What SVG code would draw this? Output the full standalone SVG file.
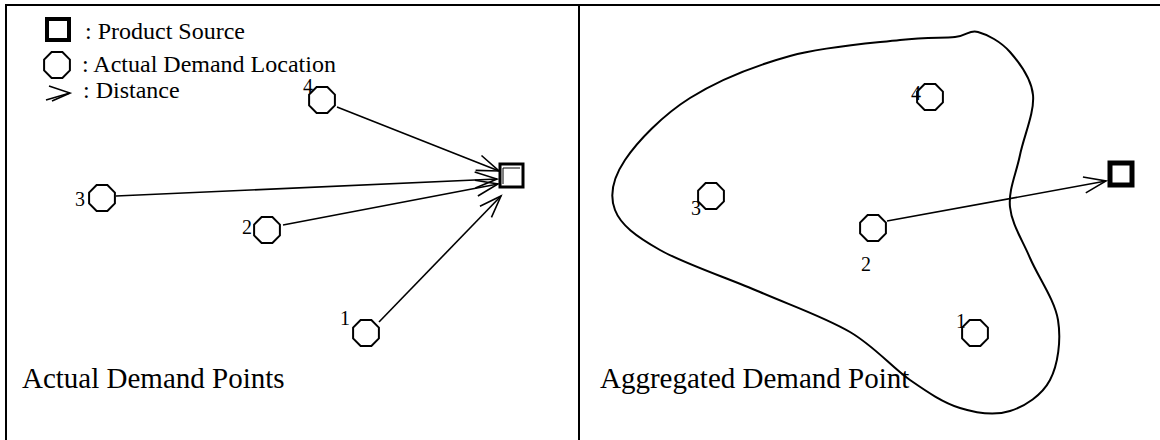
<svg xmlns="http://www.w3.org/2000/svg" xmlns:xlink="http://www.w3.org/1999/xlink" width="1160" height="440" viewBox="0 0 1160 440">
  <style>
    .frame { stroke: #000; stroke-width: 2; fill: none; }
    .oct { fill: #fff; stroke: #000; stroke-width: 2; }
    .src { fill: #fff; stroke: #000; }
    .conn { stroke: #000; stroke-width: 1.6; fill: none; }
    .lbl { font-family: "Liberation Serif", "Times New Roman", serif; fill: #000; }
    .num { font-size: 20px; }
    .leg { font-size: 24px; }
    .title { font-size: 29px; }
    .blob { fill: none; stroke: #000; stroke-width: 2; }
  </style>
  <defs>
    <polygon id="oct" points="12.9,-5.4 5.4,-12.9 -5.4,-12.9 -12.9,-5.4 -12.9,5.4 -5.4,12.9 5.4,12.9 12.9,5.4"/>
    <marker id="arr" markerUnits="userSpaceOnUse" markerWidth="26" markerHeight="20" refX="23" refY="9" orient="auto" overflow="visible">
      <path d="M1,1 L23,9 L1,17" fill="none" stroke="#000" stroke-width="1.6"/>
    </marker>
  </defs>
  <rect width="1160" height="440" fill="#fff"/>

  <!-- frame -->
  <g id="frame">
    <line class="frame" x1="5" y1="5" x2="1160" y2="5"/>
    <line class="frame" x1="6" y1="4" x2="6" y2="440"/>
    <line class="frame" x1="579" y1="4" x2="579" y2="440"/>
  </g>

  <!-- legend -->
  <g id="legend">
    <rect class="src" x="47" y="19" width="22" height="21" stroke-width="4"/>
    <text class="lbl leg" x="85" y="39">: Product Source</text>
    <use href="#oct" class="oct" x="57" y="65"/>
    <text class="lbl leg" x="82" y="72">: Actual Demand Location</text>
    <g class="conn">
      <line x1="46" y1="100" x2="70" y2="93"/>
      <polyline points="49,86 70,93 52,101"/>
    </g>
    <text class="lbl leg" x="83" y="98">: Distance</text>
  </g>

  <!-- connectors -->
  <g id="connectors">
    <line class="conn" x1="337" y1="107" x2="499" y2="171" marker-end="url(#arr)"/>
    <line class="conn" x1="116" y1="196" x2="497" y2="179" marker-end="url(#arr)"/>
    <line class="conn" x1="283" y1="225" x2="498" y2="184" marker-end="url(#arr)"/>
    <line class="conn" x1="379" y1="322" x2="501" y2="196" marker-end="url(#arr)"/>
    <line class="conn" x1="887" y1="221" x2="1106" y2="181" marker-end="url(#arr)"/>
  </g>

  <!-- left panel nodes -->
  <g id="L-source">
    <rect class="src" x="500" y="164" width="23" height="23" stroke-width="3"/>
    <path d="M503,168 L520,168 M503,168 L503,184" stroke="#000" stroke-width="1"/>
  </g>
  <g id="L-node4"><use href="#oct" class="oct" x="322" y="100"/><text class="lbl num" x="303" y="93">4</text></g>
  <g id="L-node3"><use href="#oct" class="oct" x="102" y="198"/><text class="lbl num" x="75" y="206">3</text></g>
  <g id="L-node2"><use href="#oct" class="oct" x="267" y="230"/><text class="lbl num" x="242" y="234">2</text></g>
  <g id="L-node1"><use href="#oct" class="oct" x="366" y="333"/><text class="lbl num" x="340" y="325">1</text></g>
  <text class="lbl title" x="22" y="388">Actual Demand Points</text>

  <!-- right panel -->
  <g id="region">
    <path class="blob" d="M955,37 C968,35.7 968.8,29.5 978,32 C987.2,34.5 1000.8,41.5 1010,52 C1019.2,62.5 1031.3,77.8 1033,95 C1034.7,112.2 1023.8,136.3 1020,155 C1016.2,173.7 1008.3,189.8 1010,207 C1011.7,224.2 1022,239.2 1030,258 C1038,276.8 1054.7,299.7 1058,320 C1061.3,340.3 1058,364.8 1050,380 C1042,395.2 1025,406.3 1010,411 C995,415.7 976.7,413.2 960,408 C943.3,402.8 928.3,392.7 910,380 C891.7,367.3 875,346.7 850,332 C825,317.3 791.7,305.7 760,292 C728.3,278.3 684.2,263.7 660,250 C635.8,236.3 620.8,225 615,210 C609.2,195 612.5,178.7 625,160 C637.5,141.3 662.5,115.3 690,98 C717.5,80.7 755,65.7 790,56 C825,46.3 872.5,43.2 900,40 C927.5,36.8 942,38.3 955,37 Z"/>
  </g>
  <g id="R-source">
    <rect class="src" x="1110" y="163" width="22" height="22" stroke-width="5"/>
  </g>
  <g id="R-node4"><use href="#oct" class="oct" x="930" y="97"/><text class="lbl num" x="911" y="100">4</text></g>
  <g id="R-node3"><use href="#oct" class="oct" x="711" y="196"/><text class="lbl num" x="691" y="215">3</text></g>
  <g id="R-node2"><use href="#oct" class="oct" x="873" y="228"/><text class="lbl num" x="861" y="271">2</text></g>
  <g id="R-node1"><use href="#oct" class="oct" x="975" y="333"/><text class="lbl num" x="956" y="328">1</text></g>
  <text class="lbl title" x="600" y="388">Aggregated Demand Point</text>
</svg>
